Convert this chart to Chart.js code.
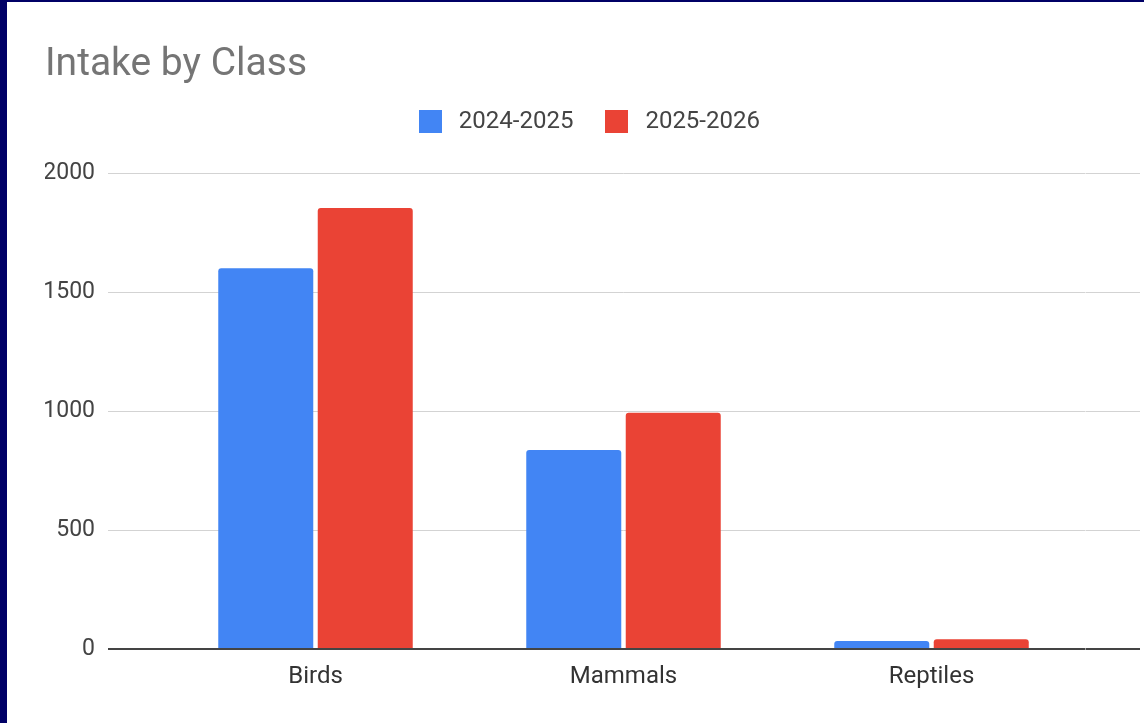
<!DOCTYPE html>
<html>
  <head>
    <meta charset="utf-8">
    <script src="https://cdn.jsdelivr.net/npm/chart.js@4.4.0/dist/chart.umd.min.js"></script>
    <style>
      html, body { margin: 0; padding: 0; }
      body { background: #000066; width: 1144px; height: 723px; overflow: hidden; }
      #wrap { position: absolute; left: 7px; top: 2px; width: 1137px; height: 721px; background: #fff; }
    </style>
  </head>
  <body>
    <div id="wrap"><canvas id="chart"></canvas></div>
    <script>
const categories = ["Birds", "Mammals", "Reptiles"];
const seriesNames = ["2024-2025", "2025-2026"];
const intake2024 = [1600, 836, 34];
const intake2025 = [1853, 993, 41];
const yTicks = [0, 500, 1000, 1500, 2000];

const BLUE = "#4285f4";
const RED = "#ea4335";
const FONT = "Roboto";

// square legend swatches (drawn as point style images)
function swatch(color) {
  var c = document.createElement("canvas");
  c.width = 23; c.height = 23;
  var g = c.getContext("2d");
  g.fillStyle = color;
  g.fillRect(0, 0, 23, 23);
  return c;
}
var swatches = [swatch(BLUE), swatch(RED)];

function gridColor(ctx) {
  return ctx.tick && ctx.tick.value === 0 ? "#444444" : "#d3d3d3";
}
function gridWidth(ctx) {
  return ctx.tick && ctx.tick.value === 0 ? 2 : 1;
}
function useTicks(s) {
  s.ticks = yTicks.map(function(v) { return { value: v }; });
}

new Chart(document.getElementById("chart"), {
  type: "bar",
  data: {
    labels: categories,
    datasets: [{
      label: seriesNames[0],
      data: intake2024,
      backgroundColor: BLUE,
      borderRadius: 3,
      borderSkipped: "start",
      categoryPercentage: 0.646,
      barPercentage: 0.955
    }, {
      label: seriesNames[1],
      data: intake2025,
      backgroundColor: RED,
      borderRadius: 3,
      borderSkipped: "start",
      categoryPercentage: 0.646,
      barPercentage: 0.955
    }]
  },
  options: {
    responsive: true,
    maintainAspectRatio: false,
    animation: false,
    layout: { padding: { left: 38, right: 15.2, top: 0, bottom: 0 } },
    plugins: {
      title: {
        display: true,
        text: "Intake by Class",
        align: "start",
        color: "#757575",
        font: { family: FONT, size: 39, weight: "normal", lineHeight: 0.9 },
        padding: { top: 45.5, bottom: 0 }
      },
      legend: {
        display: true,
        position: "top",
        labels: {
          color: "#444444",
          font: { family: FONT, size: 24 },
          usePointStyle: true,
          pointStyleWidth: 33,
          padding: 27,
          generateLabels: function(chart) {
            var items = Chart.defaults.plugins.legend.labels.generateLabels(chart);
            items.forEach(function(it, i) { it.pointStyle = swatches[i]; });
            return items;
          }
        }
      },
      tooltip: { enabled: false }
    },
    scales: {
      x: {
        position: "bottom",
        grid: { display: false },
        border: { display: false },
        ticks: { color: "#333333", font: { family: FONT, size: 24 }, padding: 5.5 },
        afterFit: function(s) { s.height = 74; }
      },
      xTop: {
        type: "category",
        position: "top",
        grid: { display: false },
        border: { display: false },
        ticks: { display: false },
        afterFit: function(s) { s.height = 29.5; }
      },
      y: {
        position: "left",
        min: 0,
        max: 2000,
        afterBuildTicks: useTicks,
        grid: { color: gridColor, lineWidth: gridWidth, tickLength: 53.5, tickColor: gridColor },
        border: { display: false },
        ticks: {
          color: "#444444",
          font: { family: FONT, size: 23 },
          padding: 13,
          callback: function(v) { return String(v); }
        },
        afterFit: function(s) { s.width = 116.5; }
      },
      y2: {
        position: "right",
        min: 0,
        max: 2000,
        afterBuildTicks: useTicks,
        grid: { color: gridColor, lineWidth: gridWidth, tickLength: 54.5, tickColor: gridColor, drawOnChartArea: false },
        border: { display: false },
        ticks: { display: false },
        afterFit: function(s) { s.width = 43.3; }
      }
    }
  }
});
    </script>
  </body>
</html>
